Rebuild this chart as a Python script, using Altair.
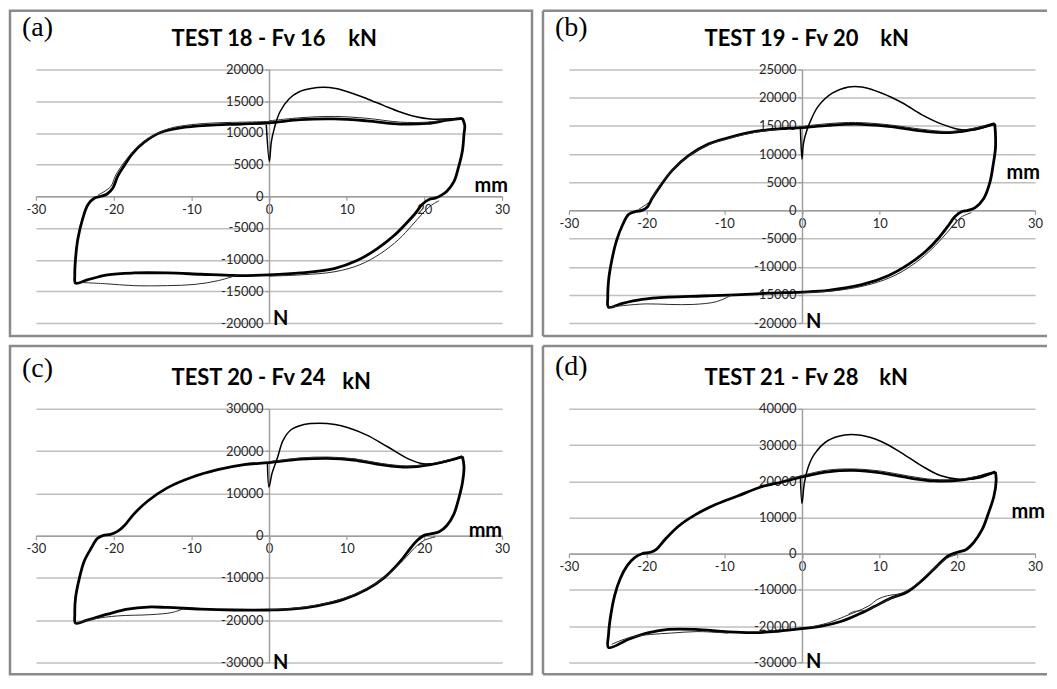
import altair as alt
import pandas as pd

# ---------------- data (displacement mm, force N) ----------------
X_TICKS = [-30, -20, -10, 0, 10, 20, 30]
A_Y_TICKS = [-20000, -15000, -10000, -5000, 0, 5000, 10000, 15000, 20000]
B_Y_TICKS = [-20000, -15000, -10000, -5000, 0, 5000, 10000, 15000, 20000, 25000]
C_Y_TICKS = [-30000, -20000, -10000, 0, 10000, 20000, 30000]
D_Y_TICKS = [-30000, -20000, -10000, 0, 10000, 20000, 30000, 40000]

TAGS = ["(a)", "(b)", "(c)", "(d)"]
TITLES = ["TEST 18 - Fv 16", "TEST 19 - Fv 20", "TEST 20 - Fv 24", "TEST 21 - Fv 28"]
UNIT = "kN"
X_UNIT = "mm"
Y_UNIT = "N"

A_MAIN = [(24.9, 12300), (25.2, 11200), (25.1, 9800), (24.9, 7200), (24.4, 4600), (23.8, 2300),
          (22.9, 800), (22.1, 100), (21.4, -300), (20.6, -500), (19.7, -1300), (18.9, -2600),
          (17.8, -4100), (16.1, -6200), (13.9, -8300), (11.4, -10100), (8.4, -11400), (4.1, -12100),
          (0.0, -12400), (-4.5, -12500), (-8.8, -12300), (-13.1, -12100), (-17.4, -12100),
          (-20.8, -12400), (-23.4, -13200), (-24.9, -13700), (-25.0, -12400), (-24.9, -9800),
          (-24.6, -6700), (-24.0, -3600), (-23.3, -1300), (-22.5, -300), (-21.6, 0), (-20.8, 400),
          (-20.1, 1300), (-19.5, 3100), (-18.6, 4900), (-17.6, 6700), (-16.1, 8500), (-13.9, 10100),
          (-11.4, 10800), (-7.9, 11200), (-3.6, 11400), (0.0, 11600), (4.1, 12100), (8.4, 12200),
          (12.6, 11900), (16.9, 11400), (20.4, 11500), (22.9, 12000), (24.9, 12300)]
A_VIRGIN = [(-0.35, 11300), (0.05, 5500), (0.3, 8600), (0.7, 10800), (1.4, 13300), (2.6, 15400),
            (3.9, 16500), (5.4, 17000), (7.0, 17200), (8.6, 17000), (10.6, 16300), (12.6, 15400),
            (14.8, 14300), (16.9, 13300), (18.8, 12600), (20.8, 12200), (23.0, 12200), (24.9, 12300)]
A_THIN = [
    [(-22.0, 200), (-20.4, 1500), (-19.7, 3400), (-18.5, 5600), (-17.0, 7700), (-15.0, 9500),
     (-12.8, 10700), (-10.0, 11300), (-6.5, 11600), (-3.0, 11700), (0.0, 11800)],
    [(0.0, 11900), (4.1, 12400), (8.4, 12600), (12.6, 12300), (16.9, 11700), (20.4, 11700),
     (23.0, 12100), (24.9, 12300)],
    [(21.9, -700), (20.8, -1500), (19.7, -2800), (18.4, -4600), (16.7, -6800), (14.4, -9000),
     (11.7, -10800), (8.5, -11900), (4.1, -12400), (0.0, -12600)],
    [(-4.0, -12400), (-6.5, -13300), (-9.5, -13900), (-13.1, -14100), (-17.4, -14100),
     (-21.0, -13800), (-24.2, -13600)],
]

B_MAIN = [(24.8, 15400), (24.9, 13800), (24.9, 10900), (24.6, 8000), (24.2, 5000), (23.4, 2100),
          (22.3, 500), (21.4, 0), (20.6, -200), (19.7, -1100), (18.9, -2600), (17.6, -4900),
          (15.9, -7300), (13.7, -9600), (11.1, -11600), (7.7, -13200), (3.4, -14200), (0.0, -14500),
          (-4.3, -14700), (-8.6, -15000), (-12.9, -15200), (-17.2, -15400), (-20.6, -15800),
          (-23.1, -16500), (-24.9, -17200), (-25.0, -15400), (-24.9, -12500), (-24.5, -9000),
          (-23.9, -5500), (-23.1, -2600), (-22.3, -700), (-21.4, -200), (-20.6, 0), (-19.9, 600),
          (-19.3, 2100), (-18.2, 4400), (-16.7, 7100), (-14.6, 9700), (-12.0, 11800), (-9.4, 12900),
          (-6.0, 14000), (-2.6, 14500), (0.0, 14700), (3.4, 15100), (6.9, 15300), (11.1, 14900),
          (15.4, 14100), (18.9, 13800), (21.4, 14200), (23.6, 14900), (24.8, 15400)]
B_VIRGIN = [(-0.2, 14600), (0.0, 9100), (0.2, 12000), (0.6, 14100), (1.2, 16200), (2.1, 18500),
            (3.9, 20800), (6.0, 21900), (7.7, 21900), (10.3, 20800), (12.9, 19100), (15.4, 17000),
            (18.0, 15300), (20.1, 14400), (22.3, 14300), (24.8, 15400)]
B_THIN = [
    [(0.0, 14900), (3.4, 15400), (6.9, 15600), (11.1, 15200), (15.4, 14400), (18.9, 14000),
     (21.4, 14400), (23.6, 15000)],
    [(-21.0, 200), (-19.6, 1600), (-18.6, 3800), (-17.1, 6500), (-15.0, 9200), (-12.4, 11400),
     (-9.6, 12700), (-6.2, 13800), (-2.8, 14400)],
    [(21.8, -400), (20.5, -1200), (19.4, -2800), (18.0, -5000), (16.3, -7400), (14.0, -9900),
     (11.4, -11900), (8.0, -13400), (4.0, -14300), (0.0, -14600)],
    [(-9.0, -15000), (-11.0, -16200), (-14.0, -16700), (-17.0, -16700), (-20.1, -16600),
     (-23.0, -16900), (-24.9, -17200)],
]

C_MAIN = [(24.9, 18700), (25.1, 16400), (24.9, 12500), (24.4, 8600), (23.8, 5100), (22.9, 2400),
          (21.9, 900), (20.8, 400), (19.9, 0), (19.1, -1100), (18.2, -3000), (16.9, -6100),
          (14.8, -10000), (12.6, -12700), (9.6, -15100), (6.2, -16600), (2.8, -17400), (0.0, -17600),
          (-4.5, -17600), (-8.8, -17400), (-13.1, -17000), (-15.6, -16900), (-18.2, -17400),
          (-20.8, -18600), (-23.4, -20000), (-24.9, -20700), (-25.0, -18600), (-24.9, -14700),
          (-24.4, -10000), (-23.8, -6100), (-22.9, -3000), (-22.1, -700), (-21.4, 0), (-20.4, 300),
          (-19.5, 1000), (-18.6, 2400), (-17.4, 5100), (-15.6, 8200), (-13.1, 11300), (-10.1, 13700),
          (-6.6, 15600), (-3.2, 16800), (0.0, 17300), (4.1, 18100), (7.5, 18300), (10.9, 17900),
          (14.4, 16800), (17.8, 16200), (20.8, 16800), (23.4, 17900), (24.9, 18700)]
C_VIRGIN = [(-0.2, 17200), (0.0, 11500), (0.4, 14800), (1.1, 18500), (1.8, 22500), (2.8, 25000),
            (4.5, 26300), (6.5, 26600), (8.5, 26300), (10.1, 25600), (12.6, 23800), (15.2, 21100),
            (17.8, 18300), (19.9, 17000), (22.1, 17200), (24.9, 18700)]
C_THIN = [
    [(0.0, 17500), (4.1, 18400), (7.5, 18600), (10.9, 18200), (14.4, 17100), (17.8, 16500),
     (20.8, 17000), (23.4, 18100)],
    [(21.4, -300), (20.0, -1100), (18.8, -2800), (17.4, -5600), (15.4, -9100), (13.0, -12100),
     (10.0, -14600), (6.5, -16300), (3.0, -17200), (0.0, -17500)],
    [(-11.0, -17300), (-12.5, -18200), (-15.2, -18700), (-19.5, -19000), (-22.5, -19700),
     (-24.9, -20700)],
]

D_MAIN = [(24.9, 22600), (25.0, 20300), (24.7, 15800), (24.0, 11200), (23.2, 6700), (22.1, 3100),
          (21.1, 1100), (20.0, 400), (18.9, -500), (18.1, -1900), (17.0, -4200), (15.5, -7300),
          (13.6, -10500), (11.4, -12300), (9.3, -14600), (7.2, -16800), (5.0, -18700), (2.5, -20000),
          (0.0, -20700), (-3.1, -21400), (-6.1, -21800), (-9.5, -21600), (-13.7, -20900),
          (-17.2, -20900), (-19.7, -21800), (-22.3, -23600), (-24.9, -25900), (-24.9, -22300),
          (-24.6, -16800), (-24.1, -11400), (-23.4, -6900), (-22.5, -3300), (-21.5, -1000),
          (-20.6, 0), (-19.5, 400), (-18.7, 1300), (-17.6, 4000), (-15.9, 7600), (-13.7, 10800),
          (-11.2, 13500), (-8.2, 16000), (-5.2, 18500), (-2.6, 19800), (0.0, 21200), (3.3, 22600),
          (6.7, 23000), (10.2, 22300), (13.6, 21000), (17.0, 20100), (20.4, 20300), (23.0, 21400),
          (24.9, 22600)]
D_VIRGIN = [(-0.2, 21000), (0.0, 13900), (0.3, 19400), (0.8, 23900), (1.6, 27500), (3.3, 31200),
            (5.5, 32800), (7.6, 32700), (10.2, 31000), (12.7, 28000), (15.3, 24400), (17.8, 21600),
            (20.4, 20500), (23.0, 21000), (24.9, 22600)]
D_THIN = [
    [(-2.0, 20400), (0.0, 21600), (3.3, 23100), (6.7, 23400), (10.2, 22800), (13.6, 21500),
     (17.0, 20500), (20.4, 20600), (23.0, 21600)],
    [(20.0, -200), (18.6, -1300), (17.5, -3200), (16.1, -5800), (14.5, -8800), (12.8, -10900),
     (11.0, -11600), (9.8, -12500), (8.6, -14400), (7.0, -16000), (5.5, -17300), (3.5, -19000),
     (1.0, -20300)],
    [(12.5, -11400), (11.0, -12800), (9.5, -14500), (8.0, -15700), (6.8, -15900), (6.0, -16600)],
    [(-24.5, -25000), (-22.0, -23000), (-19.5, -22300), (-16.8, -21900), (-13.5, -21500),
     (-9.5, -21900)],
]

# ---------------- styling / layout ----------------
FONT = "Lato"
SERIF = "Liberation Serif"
W, H = 467, 254
BOX = "#8a8a8a"
GRID = "#bfbfbf"
AXIS = "#9e9e9e"
LABEL = "#262626"
HYPHEN_LABEL = "replace(datum.label, '\u2212', '-')"


def pts_df(segments):
    rows = []
    for s, seg in enumerate(segments):
        for i, (x, y) in enumerate(seg):
            rows.append({"seg": s, "i": i, "x": x, "y": y})
    return pd.DataFrame(rows)


def panel(p):
    yt = p["yticks"]
    ymin, ymax = yt[0], yt[-1]
    y0 = H * ymax / (ymax - ymin)
    xs = alt.Scale(domain=[-30, 30], nice=False, zero=False)
    ys = alt.Scale(domain=[ymin, ymax], nice=False, zero=False)
    xax = alt.Axis(values=X_TICKS, orient="bottom", offset=y0 - H, grid=False,
                   domainColor=AXIS, domainWidth=1.5, tickColor=AXIS, tickSize=4, tickWidth=1.2,
                   labelFont=FONT, labelFontSize=13, labelColor=LABEL, labelPadding=3,
                   labelOverlap=False, labelFlush=False, labelExpr=HYPHEN_LABEL, title=None)
    yax = alt.Axis(values=yt, orient="left", offset=-W / 2, grid=True, gridColor=GRID,
                   gridWidth=1.5, domainColor=AXIS, domainWidth=1.5, tickColor=AXIS, tickSize=4,
                   tickWidth=1.2, format="d", labelFont=FONT, labelFontSize=13,
                   labelColor=LABEL, labelPadding=2, labelOverlap=False, labelFlush=False,
                   labelExpr=HYPHEN_LABEL, title=None)
    X = alt.X("x:Q", scale=xs, axis=xax)
    Y = alt.Y("y:Q", scale=ys, axis=yax)

    main = alt.Chart(pts_df([p["main"]])).mark_line(
        interpolate="catmull-rom", color="black", strokeWidth=2.8, strokeJoin="round"
    ).encode(x=X, y=Y, order=alt.Order("i:Q"))
    thin = alt.Chart(pts_df(p["thin"])).mark_line(
        interpolate="catmull-rom", color="#2a2a2a", strokeWidth=1.0
    ).encode(x=X, y=Y, detail="seg:N", order=alt.Order("i:Q"))
    virgin = alt.Chart(pts_df([p["virgin"]])).mark_line(
        interpolate="catmull-rom", color="black", strokeWidth=1.5, strokeJoin="round"
    ).encode(x=X, y=Y, order=alt.Order("i:Q"))

    mm = alt.Chart(pd.DataFrame({"x": [30], "y": [p["mm_y"]], "t": [X_UNIT]})).mark_text(
        font=FONT, fontWeight="bold", fontSize=20, align="right", baseline="alphabetic",
        dx=p["mm_dx"], dy=p["mm_dy"], color="black"
    ).encode(x=X, y=Y, text="t:N")
    nlab = alt.Chart(pd.DataFrame({"x": [0], "y": [ymin], "t": [Y_UNIT]})).mark_text(
        font=FONT, fontWeight="bold", fontSize=20, align="left", baseline="middle",
        dx=4, dy=p["n_dy"], color="black"
    ).encode(x=X, y=Y, text="t:N")

    one = pd.DataFrame({"k": [0]})
    t1 = alt.Chart(one).mark_text(
        text=p["title"], font=FONT, fontWeight="bold", fontSize=22, align="right",
        baseline="alphabetic", color="black"
    ).encode(x=alt.value(290), y=alt.value(p["title_y"]))
    t2 = alt.Chart(one).mark_text(
        text=UNIT, font=FONT, fontWeight="bold", fontSize=22, align="left",
        baseline="alphabetic", color="black"
    ).encode(x=alt.value(p["kn_x"]), y=alt.value(p["kn_y"]))
    tag = alt.Chart(one).mark_text(
        text=p["tag"], font=SERIF, fontSize=28, align="left", baseline="alphabetic",
        color="black"
    ).encode(x=alt.value(-14), y=alt.value(p["tag_y"]))

    top, bot = -p["top_ext"], H + p["bottom_ext"]
    if p["open_right"]:
        left, right = -26, W + 12
        box = [
            alt.Chart(one).mark_rule(color=BOX, strokeWidth=2.5).encode(
                x=alt.value(left), x2=alt.value(right), y=alt.value(top)),
            alt.Chart(one).mark_rule(color=BOX, strokeWidth=2.5).encode(
                x=alt.value(left), y=alt.value(top), y2=alt.value(bot)),
            alt.Chart(one).mark_rule(color=BOX, strokeWidth=2.5).encode(
                x=alt.value(left), x2=alt.value(right), y=alt.value(bot)),
        ]
    else:
        box = [
            alt.Chart(one).mark_rect(filled=False, stroke=BOX, strokeWidth=2.5).encode(
                x=alt.value(-26), x2=alt.value(W + 30), y=alt.value(top), y2=alt.value(bot))
        ]

    return alt.layer(main, thin, virgin, mm, nlab, t1, t2, tag, *box).properties(
        width=W, height=H)


PANELS = [
    dict(tag=TAGS[0], title=TITLES[0], main=A_MAIN, virgin=A_VIRGIN, thin=A_THIN, yticks=A_Y_TICKS,
         mm_y=0, mm_dx=6, mm_dy=-4, n_dy=-4, kn_x=313, kn_y=-24, title_y=-24, tag_y=-34,
         top_ext=59, bottom_ext=13, open_right=False),
    dict(tag=TAGS[1], title=TITLES[1], main=B_MAIN, virgin=B_VIRGIN, thin=B_THIN, yticks=B_Y_TICKS,
         mm_y=5000, mm_dx=5, mm_dy=-3, n_dy=-1, kn_x=312, kn_y=-24, title_y=-24, tag_y=-34,
         top_ext=59, bottom_ext=13, open_right=True),
    dict(tag=TAGS[2], title=TITLES[2], main=C_MAIN, virgin=C_VIRGIN, thin=C_THIN, yticks=C_Y_TICKS,
         mm_y=0, mm_dx=0, mm_dy=1, n_dy=1, kn_x=307, kn_y=-20, title_y=-24, tag_y=-32,
         top_ext=63, bottom_ext=12, open_right=False),
    dict(tag=TAGS[3], title=TITLES[3], main=D_MAIN, virgin=D_VIRGIN, thin=D_THIN, yticks=D_Y_TICKS,
         mm_y=10000, mm_dx=10, mm_dy=0, n_dy=0, kn_x=311, kn_y=-24, title_y=-24, tag_y=-34,
         top_ext=63, bottom_ext=12, open_right=True),
]

row1 = alt.hconcat(panel(PANELS[0]), panel(PANELS[1]), spacing=7)
row2 = alt.hconcat(panel(PANELS[2]), panel(PANELS[3]), spacing=7)

chart = alt.vconcat(row1, row2, spacing=6).properties(
    padding=0, background="white"
).configure_view(strokeWidth=0)

chart.save("out.html", embed_options={"renderer": "svg", "actions": False})
